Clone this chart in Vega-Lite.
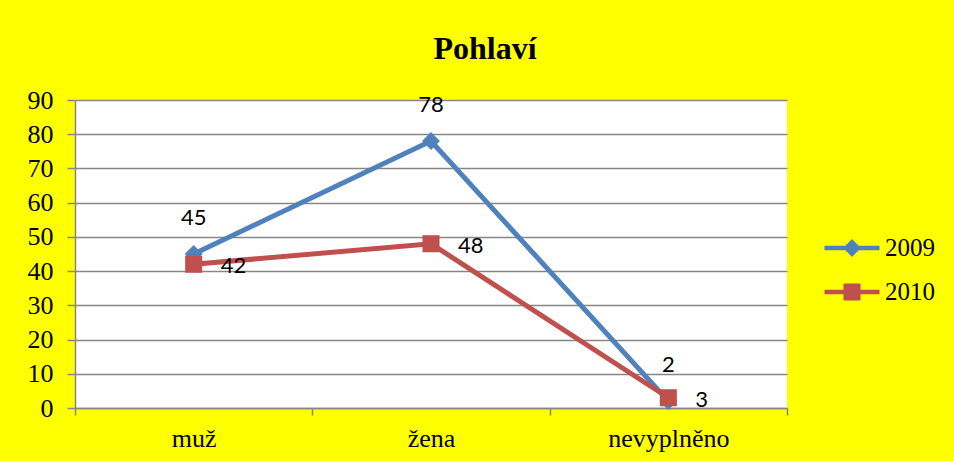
{
  "$schema": "https://vega.github.io/schema/vega-lite/v6.json",
  "width": 712,
  "height": 308,
  "autosize": {"type": "none"},
  "padding": {"left": 75, "top": 100, "right": 167, "bottom": 53},
  "background": "#FFFF00",
  "title": {
    "text": "Pohlaví",
    "font": "Liberation Serif",
    "fontSize": 32,
    "fontWeight": "bold",
    "color": "black",
    "anchor": "middle",
    "frame": "group",
    "dx": 54,
    "offset": 21
  },
  "data": {
    "values": [
      {"category": "muž", "series": "2009", "value": 45},
      {"category": "žena", "series": "2009", "value": 78},
      {"category": "nevyplněno", "series": "2009", "value": 2},
      {"category": "muž", "series": "2010", "value": 42},
      {"category": "žena", "series": "2010", "value": 48},
      {"category": "nevyplněno", "series": "2010", "value": 3}
    ]
  },
  "encoding": {
    "x": {
      "field": "category",
      "type": "nominal",
      "sort": ["muž", "žena", "nevyplněno"],
      "scale": {"type": "band", "paddingInner": 0, "paddingOuter": 0},
      "axis": {
        "title": null,
        "labelAngle": 0,
        "labelFont": "Liberation Serif",
        "labelFontSize": 26,
        "labelColor": "black",
        "labelPadding": 10,
        "tickBand": "extent",
        "tickSize": 7,
        "tickColor": "#868686",
        "tickWidth": 1.5,
        "domainColor": "#868686",
        "domainWidth": 1.5,
        "grid": false
      }
    },
    "y": {
      "field": "value",
      "type": "quantitative",
      "scale": {"domain": [0, 90], "nice": false},
      "axis": {
        "title": null,
        "values": [0, 10, 20, 30, 40, 50, 60, 70, 80, 90],
        "labelFont": "Liberation Serif",
        "labelFontSize": 26,
        "labelColor": "black",
        "labelPadding": 14,
        "tickSize": 8,
        "tickColor": "#868686",
        "tickWidth": 1.5,
        "domainColor": "#868686",
        "domainWidth": 1.5,
        "grid": true,
        "gridColor": "#868686",
        "gridWidth": 1.5
      }
    }
  },
  "layer": [
    {
      "transform": [{"filter": "datum.series === '2009'"}],
      "mark": {"type": "line", "strokeWidth": 5, "color": "#4F81BD"}
    },
    {
      "transform": [{"filter": "datum.series === '2010'"}],
      "mark": {"type": "line", "strokeWidth": 5, "color": "#C0504D"}
    },
    {
      "transform": [{"filter": "datum.series === '2009'"}],
      "mark": {"type": "point", "shape": "diamond", "filled": true, "opacity": 1, "size": 320, "color": "#4F81BD"}
    },
    {
      "transform": [{"filter": "datum.series === '2010'"}],
      "mark": {"type": "point", "shape": "square", "filled": true, "opacity": 1, "size": 290, "color": "#C0504D"}
    },
    {
      "transform": [{"filter": "datum.series === '2009'"}],
      "mark": {"type": "text", "font": "Lato", "fontSize": 22, "color": "black", "dy": -36, "align": "center", "baseline": "middle"},
      "encoding": {"text": {"field": "value", "type": "quantitative"}}
    },
    {
      "transform": [{"filter": "datum.series === '2010'"}],
      "mark": {"type": "text", "font": "Lato", "fontSize": 22, "color": "black", "dx": 27, "dy": 2, "align": "left", "baseline": "middle"},
      "encoding": {"text": {"field": "value", "type": "quantitative"}}
    },
    {
      "mark": {"type": "point", "filled": true, "opacity": 0},
      "encoding": {
        "color": {
          "field": "series",
          "type": "nominal",
          "scale": {"domain": ["2009", "2010"], "range": ["#4F81BD", "#C0504D"]},
          "legend": {"title": null}
        },
        "shape": {
          "field": "series",
          "type": "nominal",
          "scale": {
            "domain": ["2009", "2010"],
            "range": [
              "M-2,-0.16L2,-0.16L2,0.16L-2,0.16Z M0,-0.65L0.65,0L0,0.65L-0.65,0Z",
              "M-2,-0.16L2,-0.16L2,0.16L-2,0.16Z M-0.62,-0.62L0.62,-0.62L0.62,0.62L-0.62,0.62Z"
            ]
          },
          "legend": {"title": null}
        }
      }
    }
  ],
  "config": {
    "view": {"fill": "white", "stroke": null},
    "legend": {
      "orient": "none",
      "legendX": 763,
      "legendY": 134,
      "padding": 0,
      "symbolSize": 756,
      "symbolStrokeWidth": 0,
      "symbolOpacity": 1,
      "rowPadding": 17,
      "labelOffset": 19,
      "labelFont": "Liberation Serif",
      "labelFontSize": 25,
      "labelColor": "black"
    }
  }
}
